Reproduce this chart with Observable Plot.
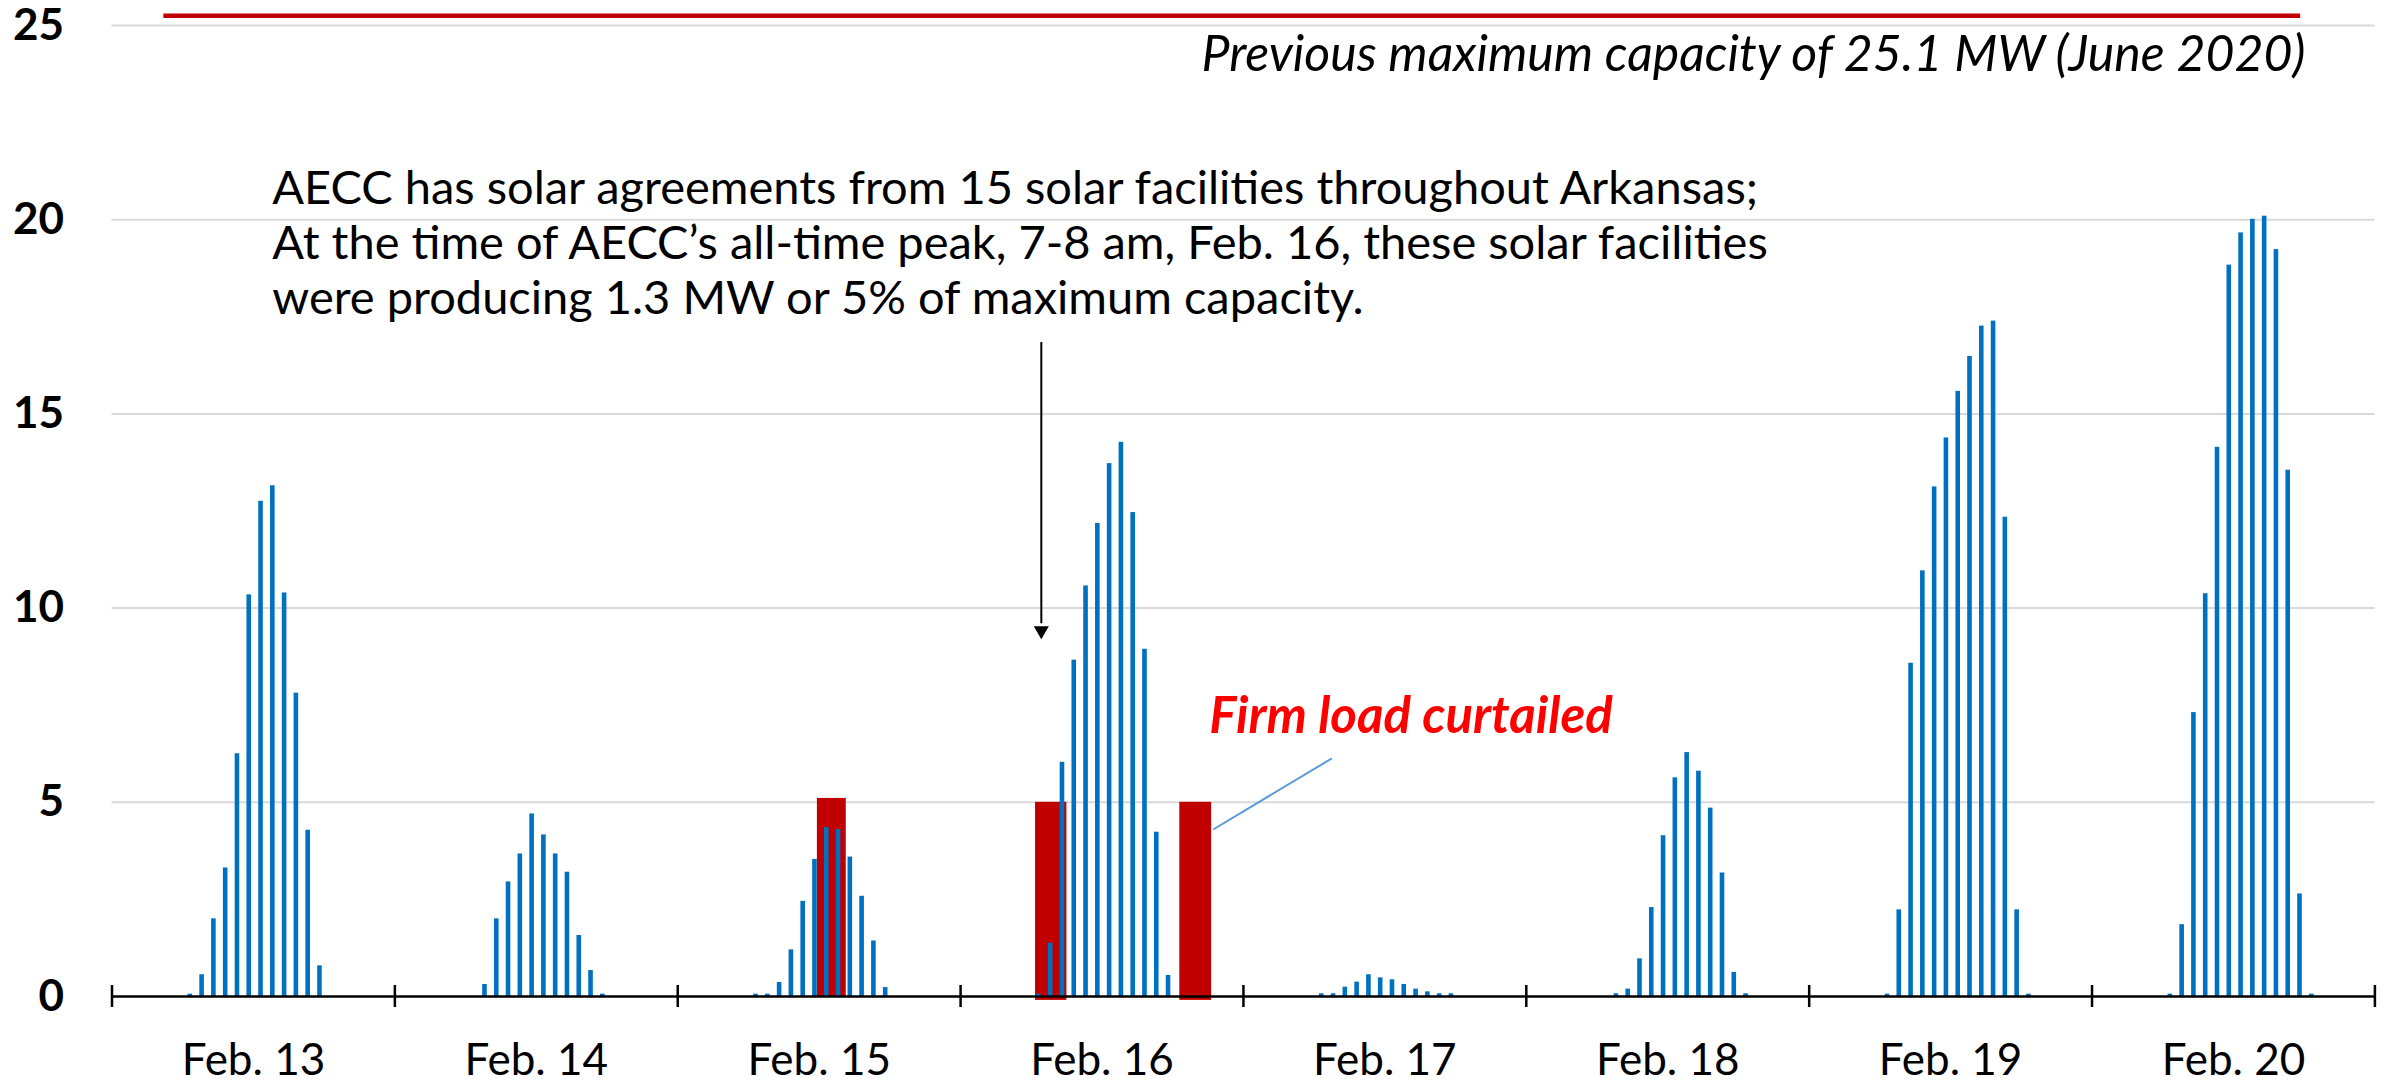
<!DOCTYPE html>
<html>
<head>
<meta charset="utf-8">
<script src="https://cdn.jsdelivr.net/npm/d3@7"></script>
<script src="https://cdn.jsdelivr.net/npm/@observablehq/plot@0.6"></script>
<style>
  html, body { margin: 0; padding: 0; background: #fff; }
  #chart svg { display: block; }
</style>
</head>
<body>
<div id="chart"></div>
<script>
// ---- data (hourly solar output, MW; index = hour of day) ----
const days = ["Feb. 13", "Feb. 14", "Feb. 15", "Feb. 16", "Feb. 17", "Feb. 18", "Feb. 19", "Feb. 20"];
const feb13 = [0,0,0,0,0,0,0.06,0.56,2.00,3.31,6.25,10.34,12.75,13.15,10.39,7.81,4.28,0.79,0,0,0,0,0,0];
const feb14 = [0,0,0,0,0,0,0,0.31,2.00,2.95,3.67,4.70,4.16,3.67,3.20,1.57,0.67,0.06,0,0,0,0,0,0];
const feb15 = [0,0,0,0,0,0,0.06,0.06,0.36,1.20,2.45,3.53,4.35,4.30,3.59,2.58,1.43,0.23,0,0,0,0,0,0];
const feb16 = [0,0,0,0,0,0,0.06,1.37,6.03,8.66,10.57,12.18,13.72,14.27,12.46,8.94,4.23,0.54,0,0,0,0,0,0];
const feb17 = [0,0,0,0,0,0,0.07,0.07,0.24,0.37,0.56,0.48,0.43,0.31,0.19,0.12,0.07,0.07,0,0,0,0,0,0];
const feb18 = [0,0,0,0,0,0,0,0.07,0.19,0.97,2.29,4.14,5.63,6.28,5.80,4.85,3.18,0.62,0.07,0,0,0,0,0];
const feb19 = [0,0,0,0,0,0,0.06,2.23,8.58,10.96,13.12,14.38,15.58,16.48,17.26,17.39,12.34,2.23,0.06,0,0,0,0,0];
const feb20 = [0,0,0,0,0,0,0.06,1.85,7.31,10.37,14.14,18.83,19.66,20.01,20.09,19.23,13.55,2.64,0.06,0,0,0,0,0];
const hourlySeries = [feb13, feb14, feb15, feb16, feb17, feb18, feb19, feb20];

// firm load curtailment blocks (red)
const curtailDay = ["Feb. 15", "Feb. 16", "Feb. 16"];
const curtailFromHour = [11.85, 6.36, 18.6];
const curtailToHour = [14.3, 9.02, 21.3];
const curtailBase = [0, -0.1, -0.1];
const curtailTop = [5.1, 5.0, 5.0];

const yTicks = [0, 5, 10, 15, 20, 25];
const gridTicks = [5, 10, 15, 20, 25];

// previous maximum capacity line
const previousMaxLevel = 25.25;
const previousMaxFromHour = 4.4;
const previousMaxToHour = 185.7;
const previousMaxLabel = "Previous maximum capacity of 25.1 MW (June 2020)";

const noteLines = [
  "AECC has solar agreements from 15 solar facilities throughout Arkansas;",
  "At the time of AECC\u2019s all-time peak, 7-8 am, Feb. 16, these solar facilities",
  "were producing 1.3 MW or 5% of maximum capacity."
];
const calloutLabel = "Firm load curtailed";

// ---- build tables ----
const HOURS = 24;
const bars = hourlySeries.flatMap((vals, d) =>
  vals.map((v, h) => ({t: d * HOURS + h, v})).filter(o => o.v > 0));
const curtail = curtailDay.map((day, i) => {
  const d = days.indexOf(day);
  return {x1: d * HOURS + curtailFromHour[i], x2: d * HOURS + curtailToHour[i], y1: curtailBase[i], y2: curtailTop[i]};
});
const dayEdges = d3.range(0, days.length * HOURS + 1, HOURS);
const dayCenters = days.map((_, i) => i * HOURS + HOURS / 2);

const FONT = "Lato, 'Open Sans', sans-serif";

const chart = Plot.plot({
  width: 2382,
  height: 1082,
  marginLeft: 111.5,
  marginRight: 7.6,
  marginTop: 25,
  marginBottom: 86,
  style: {fontFamily: FONT, fontSize: "42px", background: "#fff", color: "#000", overflow: "visible"},
  x: {domain: [0, days.length * HOURS]},
  y: {domain: [0, 25]},
  marks: [
    Plot.ruleY(gridTicks, {stroke: "#d9d9d9", strokeWidth: 2}),
    Plot.ruleY([previousMaxLevel], {x1: previousMaxFromHour, x2: previousMaxToHour, stroke: "#C00000", strokeWidth: 4.5}),
    Plot.rect(curtail, {x1: "x1", x2: "x2", y1: "y1", y2: "y2", fill: "#C00000"}),
    Plot.rect(bars, {x1: d => d.t + 0.45, x2: d => d.t + 0.84, y1: 0, y2: "v", fill: "#0070C0"}),
    Plot.ruleY([0], {stroke: "#000", strokeWidth: 2.5}),
    Plot.ruleX(dayEdges, {y1: 0, y2: 0, insetTop: -11, insetBottom: -11, stroke: "#000", strokeWidth: 2.5}),
    Plot.axisX({ticks: dayCenters, tickFormat: t => days[(t - HOURS / 2) / HOURS], tickSize: 0, tickPadding: 47,
      fontSize: 44, fontFamily: FONT, fill: "#000"}),
    Plot.axisY({ticks: yTicks, tickFormat: d => String(d), tickSize: 0, tickPadding: 48,
      fontSize: 44, fontWeight: "bold", fontFamily: FONT, fill: "#000"}),
    // annotation arrow
    Plot.ruleX([78.85], {y1: 16.84, y2: 9.6, stroke: "#000", strokeWidth: 2}),
    Plot.dot([78.85], {x: d => d, y: 9.42, symbol: "triangle", rotate: 180, r: 5.6, fill: "#000", stroke: null}),
    // leader line to curtailment block
    Plot.link([0], {x1: 103.5, y1: 6.13, x2: 93.43, y2: 4.3, stroke: "#5B9BD5", strokeWidth: 2}),
    // texts
    Plot.text([previousMaxLabel], {text: d => d, x: 186.1, y: 23.84, textAnchor: "end", lineAnchor: "bottom",
      fontStyle: "italic", fontSize: 50, fontFamily: FONT, fill: "#000"}),
    Plot.text([noteLines.join("\n")], {text: d => d, x: 13.6, y: 17.58, textAnchor: "start", lineAnchor: "bottom",
      lineHeight: 1.17, fontSize: 47, fontFamily: FONT, fill: "#000"}),
    Plot.text([calloutLabel], {text: d => d, x: 93.1, y: 6.78, textAnchor: "start", lineAnchor: "bottom",
      fontStyle: "italic", fontWeight: "bold", fontSize: 51, fontFamily: FONT, fill: "#FF0000"})
  ]
});
document.getElementById("chart").appendChild(chart);
</script>
</body>
</html>
